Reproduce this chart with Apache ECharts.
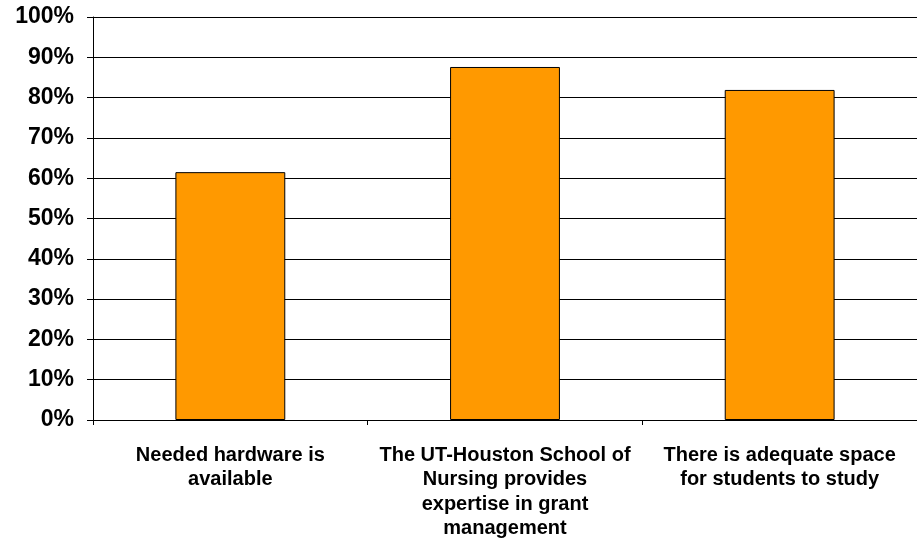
<!DOCTYPE html>
<html>
<head>
<meta charset="utf-8">
<script src="https://cdn.jsdelivr.net/npm/echarts@6/dist/echarts.min.js"></script>
<style>
  html, body { margin: 0; padding: 0; background: #fff; }
  #chart { width: 917px; height: 547px; }
</style>
</head>
<body>
<div id="chart"></div>
<script>
const categories = [
  'Needed hardware is\navailable',
  'The UT-Houston School of\nNursing provides\nexpertise in grant\nmanagement',
  'There is adequate space\nfor students to study'
]
const values = [61.5, 87.6, 81.9]
const yTicks = [0, 10, 20, 30, 40, 50, 60, 70, 80, 90, 100]

const chart = echarts.init(document.getElementById('chart'))
chart.setOption({
  animation: false,
  grid: { left: 93, right: -1, top: 17, bottom: 127 },
  xAxis: {
    type: 'category',
    data: categories,
    axisLine: { lineStyle: { color: '#000', width: 1 } },
    axisTick: { show: true, length: 5, lineStyle: { color: '#000' } },
    axisLabel: {
      color: '#000',
      fontFamily: 'Liberation Sans, Arial, sans-serif',
      fontWeight: 'bold',
      fontSize: 20,
      lineHeight: 24.5,
      margin: 23,
      interval: 0
    }
  },
  yAxis: {
    type: 'value',
    min: yTicks[0],
    max: yTicks[yTicks.length - 1],
    interval: 10,
    axisLine: { show: true, lineStyle: { color: '#000' } },
    axisTick: { show: true, length: 6, lineStyle: { color: '#000' } },
    splitLine: { lineStyle: { color: '#000', width: 1 } },
    axisLabel: {
      color: '#000',
      fontFamily: 'Liberation Sans, Arial, sans-serif',
      fontWeight: 'bold',
      fontSize: 23,
      margin: 19,
      formatter: v => v + '%'
    }
  },
  series: [
    {
      type: 'bar',
      data: values,
      barWidth: '40%',
      itemStyle: { color: '#FF9900', borderColor: '#000', borderWidth: 1 }
    }
  ]
})
</script>
</body>
</html>
